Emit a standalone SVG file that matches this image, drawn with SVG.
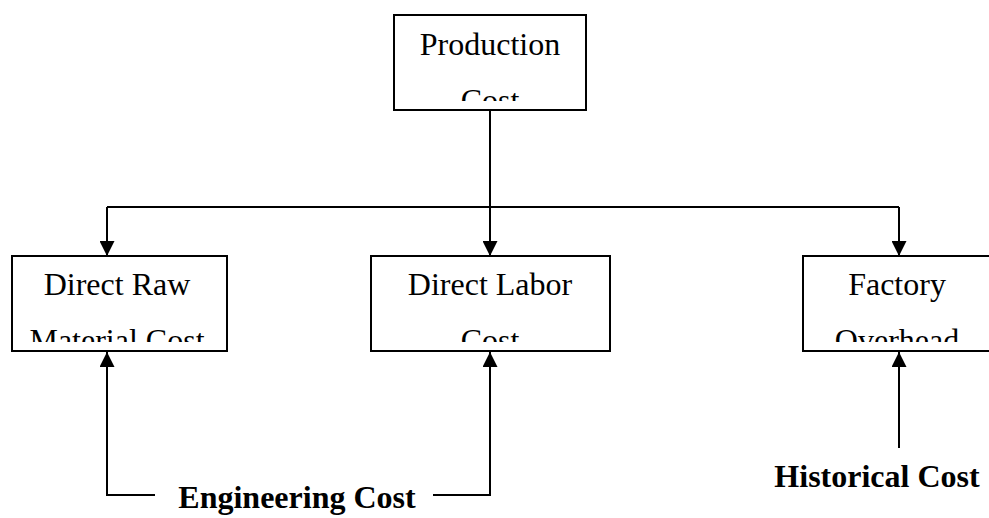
<svg xmlns="http://www.w3.org/2000/svg" width="989" height="518" viewBox="0 0 989 518">
  <style>
    .box { fill: #fff; stroke: #000; stroke-width: 2; }
    .lbl { font-family: "Liberation Serif", "Times New Roman", serif; font-size: 32px; fill: #000; text-anchor: middle; }
    .note { font-family: "Liberation Serif", "Times New Roman", serif; font-size: 32px; font-weight: bold; fill: #000; text-anchor: middle; }
    .wire { fill: none; stroke: #000; stroke-width: 2; }
  </style>
  <defs>
    <marker id="head" viewBox="0 0 15 15" refX="15" refY="7.5" markerWidth="15" markerHeight="15" markerUnits="userSpaceOnUse" orient="auto">
      <path d="M0,0 L15,7.5 L0,15 Z" fill="#000"/>
    </marker>
    <clipPath id="clip-prod"><rect x="396" y="17" width="188" height="84"/></clipPath>
    <clipPath id="clip-raw"><rect x="14" y="258" width="211" height="84"/></clipPath>
    <clipPath id="clip-labor"><rect x="373" y="258" width="235" height="84"/></clipPath>
    <clipPath id="clip-fo"><rect x="805" y="258" width="185" height="84"/></clipPath>
  </defs>

  <!-- connectors -->
  <g id="connectors">
    <path class="wire" d="M490,110 V256" marker-end="url(#head)"/>
    <path class="wire" d="M107,207 H899"/>
    <path class="wire" d="M107,207 V256" marker-end="url(#head)"/>
    <path class="wire" d="M899,207 V256" marker-end="url(#head)"/>
    <path class="wire" d="M155,495 H107 V352" marker-end="url(#head)"/>
    <path class="wire" d="M433,495 H490 V352" marker-end="url(#head)"/>
    <path class="wire" d="M899,448 V352" marker-end="url(#head)"/>
  </g>

  <g id="production-cost">
    <rect class="box" x="394" y="15" width="192" height="95"/>
    <g clip-path="url(#clip-prod)">
      <text class="lbl" x="490" y="55">Production</text>
      <text class="lbl" x="490" y="111">Cost</text>
    </g>
  </g>

  <g id="direct-raw-material">
    <rect class="box" x="12" y="256" width="215" height="95"/>
    <g clip-path="url(#clip-raw)">
      <text class="lbl" x="117" y="295">Direct Raw</text>
      <text class="lbl" x="117" y="351">Material Cost</text>
    </g>
  </g>

  <g id="direct-labor">
    <rect class="box" x="371" y="256" width="239" height="95"/>
    <g clip-path="url(#clip-labor)">
      <text class="lbl" x="490" y="295">Direct Labor</text>
      <text class="lbl" x="490" y="351">Cost</text>
    </g>
  </g>

  <g id="factory-overhead">
    <rect class="box" x="803" y="256" width="190" height="95"/>
    <g clip-path="url(#clip-fo)">
      <text class="lbl" x="897" y="295">Factory</text>
      <text class="lbl" x="897" y="351">Overhead</text>
    </g>
  </g>

  <g id="engineering-cost">
    <text class="note" x="297" y="508">Engineering Cost</text>
  </g>

  <g id="historical-cost">
    <text class="note" x="877" y="487">Historical Cost</text>
  </g>
</svg>
